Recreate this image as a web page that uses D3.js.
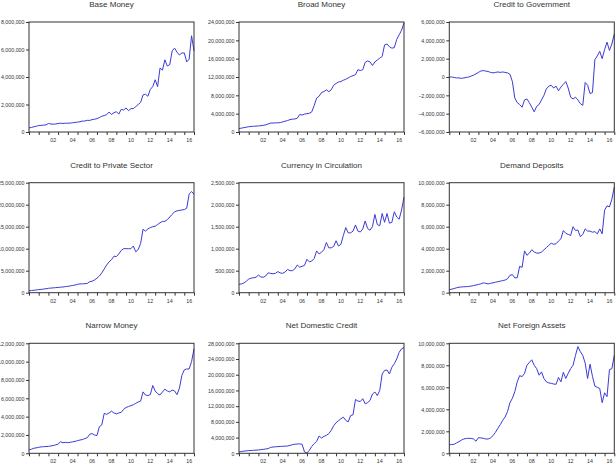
<!DOCTYPE html>
<html lang="en">
<head>
<meta charset="UTF-8">
<title>Monetary aggregates</title>
<script src="https://d3js.org/d3.v7.min.js"></script>
<style>
  body { margin: 0; background: #fff; }
  text { font-family: 'Liberation Sans', Arial, sans-serif; fill: #333; }
</style>
</head>
<body>
<div id="chart"></div>
<script>
// quarterly readings, 2000Q1 .. 2017Q1, values in millions
var quarters = d3.range(69).map(function (i) { return 2000 + i / 4; });
var yearLabels = ["02", "04", "06", "08", "10", "12", "14", "16"];

var baseMoney = [
  0.30, 0.33, 0.38, 0.42, 0.47, 0.48, 0.50, 0.52, 0.62, 0.58, 0.57, 0.58,
  0.62, 0.64, 0.62, 0.64, 0.64, 0.65, 0.67, 0.70, 0.72, 0.75, 0.79, 0.80,
  0.85, 0.84, 0.90, 0.93, 0.97, 1.05, 1.14, 1.20, 1.26, 1.45, 1.28, 1.40,
  1.48, 1.30, 1.65, 1.60, 1.75, 1.55, 1.70, 1.70, 1.85, 2.00, 2.15, 2.70,
  2.75, 2.60, 3.10, 3.30, 3.80, 3.30, 4.65, 4.50, 5.25, 4.80, 4.90, 5.90,
  6.10, 5.80, 5.60, 5.75, 5.75, 5.10, 5.30, 7.00, 5.90];
var broadMoney = [
  0.73, 0.85, 0.95, 1.05, 1.15, 1.20, 1.25, 1.28, 1.32, 1.38, 1.45, 1.55,
  1.75, 1.95, 1.95, 2.00, 2.00, 2.05, 2.20, 2.35, 2.50, 2.70, 2.80, 2.85,
  3.00, 3.80, 3.70, 3.90, 4.00, 4.10, 4.40, 5.80, 7.40, 7.80, 8.60, 8.80,
  9.20, 8.80, 9.20, 10.2, 10.6, 10.9, 11.0, 11.3, 11.5, 11.8, 12.1, 12.3,
  12.5, 13.6, 13.4, 13.6, 15.2, 15.5, 15.3, 14.5, 15.3, 15.7, 16.1, 16.5,
  19.0, 19.2, 18.6, 18.3, 18.4, 20.2, 21.2, 22.2, 23.8];
var creditGov = [
  0.00, 0.00, -0.05, -0.10, -0.10, -0.15, -0.10, -0.05, 0.00, 0.10, 0.20, 0.35,
  0.50, 0.65, 0.70, 0.65, 0.60, 0.50, 0.45, 0.50, 0.55, 0.50, 0.55, 0.50,
  0.45, 0.30, -0.50, -2.30, -2.80, -3.00, -3.30, -2.50, -2.40, -2.80, -3.30, -3.80,
  -3.20, -3.00, -2.50, -2.00, -1.30, -1.00, -0.90, -1.20, -1.00, -1.50, -1.10, -0.80,
  -0.50, -1.20, -2.20, -2.40, -2.20, -2.50, -2.90, -3.10, -0.60, -0.90, -1.80, -1.70,
  1.90, 2.30, 2.80, 2.00, 3.00, 3.80, 2.90, 3.60, 4.70];
var creditPrivate = [
  0.45, 0.50, 0.55, 0.62, 0.70, 0.75, 0.82, 0.90, 1.00, 1.05, 1.10, 1.15,
  1.20, 1.25, 1.30, 1.38, 1.45, 1.55, 1.65, 1.75, 1.90, 2.00, 2.00, 2.05,
  2.10, 2.50, 2.60, 2.90, 3.30, 3.80, 4.50, 5.40, 6.30, 7.00, 7.50, 8.30,
  8.20, 8.80, 9.60, 10.0, 10.0, 10.0, 10.0, 10.6, 9.30, 9.80, 11.2, 14.4,
  14.0, 14.5, 14.8, 15.0, 15.1, 15.5, 15.9, 16.2, 16.2, 16.6, 17.2, 17.8,
  18.4, 18.6, 18.7, 18.8, 18.9, 19.2, 22.4, 23.0, 22.4];
var currency = [
  0.19, 0.20, 0.22, 0.26, 0.31, 0.33, 0.34, 0.35, 0.40, 0.36, 0.35, 0.38,
  0.45, 0.44, 0.43, 0.44, 0.48, 0.45, 0.44, 0.47, 0.53, 0.50, 0.50, 0.54,
  0.63, 0.58, 0.60, 0.62, 0.76, 0.70, 0.72, 0.78, 0.95, 0.88, 0.92, 0.98,
  1.14, 1.02, 1.02, 1.05, 1.18, 1.06, 1.10, 1.30, 1.48, 1.36, 1.36, 1.40,
  1.54, 1.40, 1.38, 1.45, 1.63, 1.46, 1.42, 1.50, 1.78, 1.55, 1.52, 1.80,
  1.60, 1.80, 1.58, 1.60, 1.84, 1.72, 1.67, 1.88, 2.17];
var demandDeposits = [
  0.27, 0.32, 0.38, 0.45, 0.50, 0.52, 0.54, 0.55, 0.57, 0.60, 0.65, 0.70,
  0.75, 0.80, 0.90, 0.85, 0.80, 0.85, 0.90, 0.95, 1.00, 1.05, 1.10, 1.15,
  1.27, 1.58, 1.64, 1.35, 1.36, 2.40, 2.30, 3.80, 3.40, 3.60, 3.90, 3.70,
  3.60, 3.60, 3.70, 3.90, 4.10, 4.30, 4.50, 4.40, 4.45, 4.70, 4.90, 5.65,
  5.40, 5.30, 5.20, 6.00, 5.65, 5.70, 5.10, 5.30, 5.80, 5.60, 5.60, 5.50,
  5.55, 5.35, 5.80, 5.35, 7.50, 7.90, 7.80, 8.50, 9.60];
var narrowMoney = [
  0.36, 0.45, 0.55, 0.60, 0.65, 0.70, 0.72, 0.74, 0.76, 0.80, 0.85, 0.92,
  1.00, 1.27, 1.15, 1.20, 1.16, 1.20, 1.25, 1.30, 1.38, 1.45, 1.50, 1.60,
  1.70, 2.07, 2.15, 2.00, 1.93, 2.90, 3.10, 4.36, 4.25, 4.40, 4.60, 4.40,
  4.30, 4.40, 4.47, 4.80, 5.00, 5.10, 5.20, 5.30, 5.45, 5.60, 5.70, 6.70,
  6.36, 6.30, 6.40, 7.40, 6.80, 6.50, 6.36, 6.70, 7.00, 6.80, 6.70, 6.90,
  6.80, 6.40, 7.10, 8.50, 9.10, 9.20, 9.20, 10.0, 11.4];
var netDomestic = [
  0.34, 0.45, 0.55, 0.62, 0.68, 0.72, 0.76, 0.80, 0.85, 0.92, 1.00, 1.10,
  1.20, 1.50, 1.60, 1.65, 1.70, 1.75, 1.78, 1.82, 1.86, 2.00, 2.20, 2.30,
  2.37, 2.40, 2.30, 0.34, 0.08, 0.76, 1.78, 2.45, 3.05, 4.40, 3.90, 4.30,
  4.57, 5.00, 5.84, 7.00, 7.78, 8.30, 8.80, 9.20, 8.40, 8.00, 9.60, 9.80,
  13.7, 13.3, 13.2, 13.9, 12.6, 12.9, 13.45, 15.1, 15.6, 14.7, 16.0, 20.2,
  21.1, 21.2, 20.2, 21.9, 22.8, 24.0, 25.7, 26.6, 26.9];
var netForeign = [
  0.76, 0.80, 0.82, 0.95, 1.06, 1.20, 1.30, 1.35, 1.36, 1.35, 1.30, 1.10,
  1.42, 1.40, 1.36, 1.30, 1.30, 1.40, 1.60, 1.90, 2.27, 2.60, 3.00, 3.30,
  3.80, 4.60, 5.00, 5.60, 6.50, 7.06, 6.97, 7.27, 8.00, 8.27, 8.50, 8.00,
  7.70, 7.10, 7.40, 6.80, 6.50, 6.40, 6.36, 6.30, 6.27, 6.90, 6.50, 7.36,
  6.80, 7.27, 7.70, 8.00, 8.90, 9.70, 9.24, 8.90, 8.20, 6.80, 8.10, 7.00,
  6.10, 6.00, 5.90, 4.60, 5.50, 5.15, 7.60, 7.70, 8.90];

var panels = [
  { title: "Base Money", values: baseMoney, domain: [0, 8], step: 2 },
  { title: "Broad Money", values: broadMoney, domain: [0, 24], step: 4 },
  { title: "Credit to Government", values: creditGov, domain: [-6, 6], step: 2 },
  { title: "Credit to Private Sector", values: creditPrivate, domain: [0, 25], step: 5 },
  { title: "Currency in Circulation", values: currency, domain: [0, 2.5], step: 0.5 },
  { title: "Demand Deposits", values: demandDeposits, domain: [0, 10], step: 2 },
  { title: "Narrow Money", values: narrowMoney, domain: [0, 12], step: 2 },
  { title: "Net Domestic Credit", values: netDomestic, domain: [0, 28], step: 4 },
  { title: "Net Foreign Assets", values: netForeign, domain: [0, 10], step: 2 }
];

var colX = [29, 239, 449.3];
var rowY = [22, 182.7, 343.3];
var boxW = 165, boxH = 110;

var svg = d3.select("#chart")
  .append("svg")
  .attr("width", 616)
  .attr("height", 467);

var fmt = d3.format(",.0f");

panels.forEach(function (p, i) {
  var g = svg.append("g")
    .attr("transform", "translate(" + colX[i % 3] + "," + rowY[Math.floor(i / 3)] + ")");

  var x = d3.scaleLinear().domain([2000, 2017]).range([0, boxW]);
  var y = d3.scaleLinear().domain(p.domain).range([boxH, 0]);

  g.append("rect")
    .attr("width", boxW)
    .attr("height", boxH)
    .attr("fill", "#fff");

  g.append("text")
    .attr("x", boxW / 2)
    .attr("y", -15)
    .attr("text-anchor", "middle")
    .style("font-size", "8px")
    .text(p.title);

  var yAxis = d3.axisLeft(y)
    .tickValues(d3.range(p.domain[0], p.domain[1] + p.step / 2, p.step))
    .tickSize(3)
    .tickPadding(1.5)
    .tickFormat(function (d) { return fmt(d * 1e6); });

  var ya = g.append("g").call(yAxis);
  ya.select(".domain").remove();
  ya.selectAll("line").attr("stroke", "#333");
  ya.selectAll("text").style("font-size", "5.3px").attr("fill", "#333");

  var xAxis = d3.axisBottom(x)
    .tickValues(d3.range(2000, 2018))
    .tickSize(3)
    .tickFormat("");

  var xa = g.append("g")
    .attr("transform", "translate(0," + boxH + ")")
    .call(xAxis);
  xa.select(".domain").remove();
  xa.selectAll("line").attr("stroke", "#333");

  g.selectAll(".yl")
    .data(yearLabels)
    .enter()
    .append("text")
    .attr("class", "yl")
    .attr("x", function (d) { return x(2000 + +d + 0.5); })
    .attr("y", boxH + 10)
    .attr("text-anchor", "middle")
    .style("font-size", "5.3px")
    .text(function (d) { return d; });

  var line = d3.line()
    .x(function (d, j) { return x(quarters[j]); })
    .y(function (d) { return y(d); });

  g.append("path")
    .datum(p.values)
    .attr("d", line)
    .attr("fill", "none")
    .attr("stroke", "#3a3ad8")
    .attr("stroke-width", 1);

  g.append("rect")
    .attr("width", boxW)
    .attr("height", boxH)
    .attr("fill", "none")
    .attr("stroke", "#333")
    .attr("stroke-width", 1);
});
</script>
</body>
</html>
